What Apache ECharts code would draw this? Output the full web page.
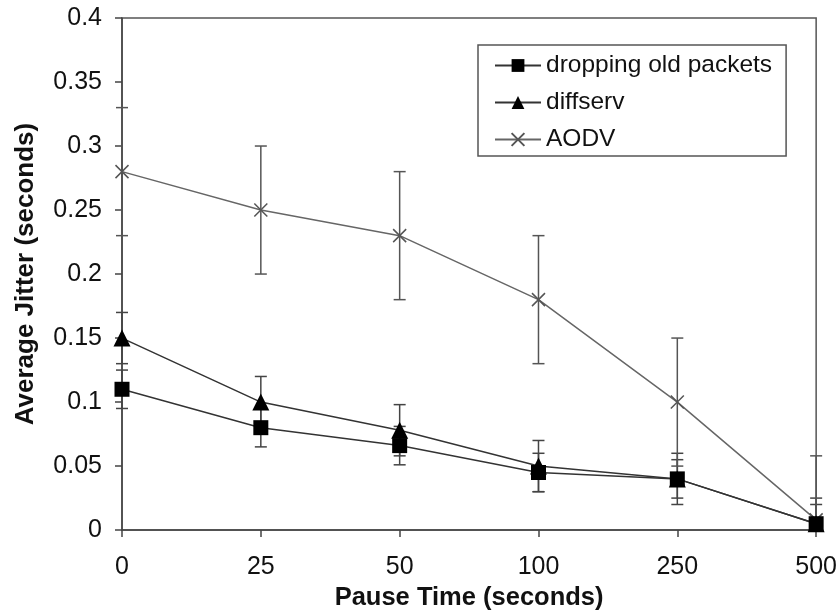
<!DOCTYPE html>
<html><head><meta charset="utf-8">
<script src="https://cdn.jsdelivr.net/npm/echarts@6/dist/echarts.min.js"></script>
<style>html,body{margin:0;padding:0;background:#fff}#c{width:840px;height:616px}</style>
</head><body><div id="c"></div>
<script>
const categories = ['0', '25', '50', '100', '250', '500'];
const dropping = [0.11, 0.08, 0.066, 0.045, 0.04, 0.005];
const droppingErr = [0.015, 0.015, 0.015, 0.015, 0.015, 0.015];
const diffserv = [0.15, 0.10, 0.078, 0.05, 0.04, 0.005];
const diffservErr = [0.02, 0.02, 0.02, 0.02, 0.02, 0.02];
const aodv = [0.28, 0.25, 0.23, 0.18, 0.10, 0.008];
const aodvErr = [0.05, 0.05, 0.05, 0.05, 0.05, 0.05];
const yTicks = { min: 0, max: 0.4, interval: 0.05 };

const FONT = '"Liberation Sans", Arial, sans-serif';
function errData(vals, errs) {
  return vals.map((v, i) => [i, Math.max(0, v - errs[i]), v + errs[i]]);
}
function errSeries(vals, errs, color) {
  return {
    type: 'custom', silent: true, z: 1,
    data: errData(vals, errs),
    encode: { x: 0, y: [1, 2] },
    renderItem: function (params, api) {
      const lo = api.coord([api.value(0), api.value(1)]);
      const hi = api.coord([api.value(0), api.value(2)]);
      const hw = 6;
      const st = { stroke: color, lineWidth: 1.5 };
      const ch = [
        { type: 'line', shape: { x1: lo[0], y1: lo[1], x2: hi[0], y2: hi[1] }, style: st },
        { type: 'line', shape: { x1: hi[0] - hw, y1: hi[1], x2: hi[0] + hw, y2: hi[1] }, style: st }
      ];
      if (api.value(1) > 0) ch.push({ type: 'line', shape: { x1: lo[0] - hw, y1: lo[1], x2: lo[0] + hw, y2: lo[1] }, style: st });
      return { type: 'group', children: ch };
    }
  };
}
const crossPath = 'path://M0,0L10,10M10,0L0,10';
const chart = echarts.init(document.getElementById('c'));
chart.setOption({
  animation: false,
  backgroundColor: '#fff',
  textStyle: { fontFamily: FONT },
  grid: { left: 122, right: 23, top: 18, bottom: 77, show: true, borderColor: '#555', borderWidth: 1.5, backgroundColor: 'transparent' },
  legend: {
    left: 478, top: 45, orient: 'vertical',
    data: ['dropping old packets', 'diffserv', 'AODV'],
    borderColor: '#555', borderWidth: 1.5, backgroundColor: '#fff',
    padding: [8, 14, 4, 16], itemGap: 12, itemWidth: 46, itemHeight: 16,
    textStyle: { fontSize: 24.5, color: '#111', fontFamily: FONT, padding: [0, 0, 0, 0] }
  },
  xAxis: {
    type: 'category', data: categories, boundaryGap: false,
    name: 'Pause Time (seconds)', nameLocation: 'middle', nameGap: 50,
    nameTextStyle: { fontSize: 25.5, fontWeight: 'bold', color: '#111', fontFamily: FONT },
    axisLine: { lineStyle: { color: '#444', width: 1.5 } },
    axisTick: { show: true, length: 7, alignWithLabel: true, lineStyle: { color: '#444', width: 1.5 } },
    axisLabel: { fontSize: 25, color: '#111', margin: 25 },
    splitLine: { show: false }
  },
  yAxis: {
    type: 'value', min: yTicks.min, max: yTicks.max, interval: yTicks.interval,
    name: 'Average Jitter (seconds)', nameLocation: 'middle', nameGap: 83,
    nameTextStyle: { fontSize: 26, fontWeight: 'bold', color: '#111', fontFamily: FONT },
    axisLine: { show: true, lineStyle: { color: '#444', width: 1.5 } },
    axisTick: { show: true, length: 7, lineStyle: { color: '#444', width: 1.5 } },
    axisLabel: { fontSize: 25, color: '#111', margin: 20 },
    splitLine: { show: false }
  },
  series: [
    errSeries(dropping, droppingErr, '#444'),
    errSeries(diffserv, diffservErr, '#444'),
    errSeries(aodv, aodvErr, '#555'),
    { name: 'AODV', type: 'line', data: aodv, symbol: crossPath, symbolSize: 13, z: 3,
      lineStyle: { color: '#666', width: 1.5 }, itemStyle: { color: '#555', borderColor: '#555', borderWidth: 1.5 } },
    { name: 'diffserv', type: 'line', data: diffserv, symbol: 'triangle', symbolSize: 17, z: 4,
      lineStyle: { color: '#333', width: 1.5 }, itemStyle: { color: '#000' } },
    { name: 'dropping old packets', type: 'line', data: dropping, symbol: 'rect', symbolSize: 15, z: 5,
      lineStyle: { color: '#333', width: 1.5 }, itemStyle: { color: '#000' } }
  ]
});
</script></body></html>
